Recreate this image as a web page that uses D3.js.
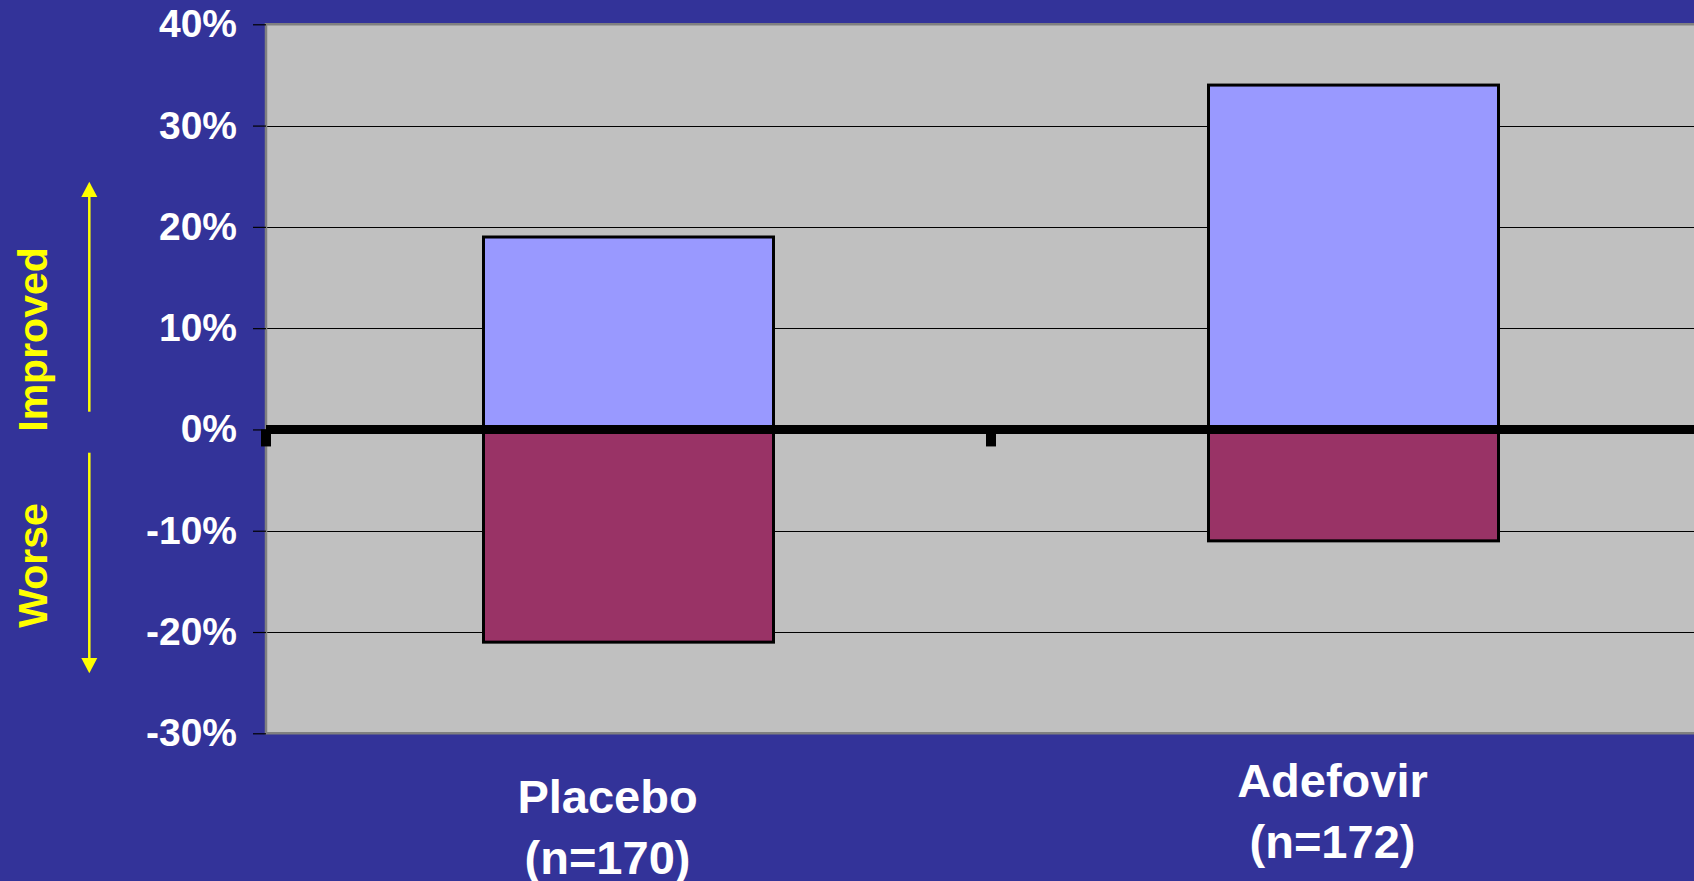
<!DOCTYPE html>
<html>
<head>
<meta charset="utf-8">
<script src="https://cdn.jsdelivr.net/npm/d3@7"></script>
<style>
  html, body { margin: 0; padding: 0; background: #333399; overflow: hidden; }
  svg { display: block; }
</style>
</head>
<body>
<svg id="chart" width="1694" height="881"></svg>
<script>
// Treatment groups and the share of patients in each outcome (%)
const groups = ["Placebo", "Adefovir"];
const groupSizes = ["(n=170)", "(n=172)"];
const improved = [19, 34];
const worse = [-21, -11];
const yTicks = [40, 30, 20, 10, 0, -10, -20, -30];

const W = 1694, H = 881;
const svg = d3.select("#chart");

const plotLeft = 266, plotTop = 24.3, plotBottom = 733.3;
const plotRight = plotLeft + 1450;

const y = d3.scaleLinear().domain([-30, 40]).range([plotBottom, plotTop]);
const x = d3.scaleBand().domain(groups).range([plotLeft, plotRight])
  .paddingInner(0.6).paddingOuter(0.3);

// Plot area
svg.append("rect")
  .attr("x", plotLeft).attr("y", plotTop)
  .attr("width", plotRight - plotLeft).attr("height", plotBottom - plotTop)
  .attr("fill", "#C0C0C0");

// Gridlines
svg.append("g").selectAll("line")
  .data(yTicks.filter(d => d !== 0 && d !== 40 && d !== -30))
  .join("line")
  .attr("x1", plotLeft).attr("x2", W)
  .attr("y1", d => Math.round(y(d)) + 0.5).attr("y2", d => Math.round(y(d)) + 0.5)
  .attr("stroke", "#000").attr("stroke-width", 1);

// Plot border (gray frame)
svg.append("path")
  .attr("d", `M${W},${plotTop} H${plotLeft} V${plotBottom} H${W}`)
  .attr("fill", "none").attr("stroke", "#808080").attr("stroke-width", 2.5);

// Y axis with tick marks to the left
const yAxis = d3.axisLeft(y).tickValues(yTicks).tickSize(13).tickPadding(16)
  .tickFormat(d => d + "%");
const gy = svg.append("g").attr("transform", `translate(${plotLeft},0)`).call(yAxis);
gy.select(".domain").remove();
gy.selectAll(".tick line").attr("stroke", "#000").attr("stroke-width", 1.2);
gy.selectAll(".tick text")
  .attr("fill", "#fff")
  .attr("font-family", "'Liberation Sans', Arial, sans-serif")
  .attr("font-weight", "bold")
  .attr("font-size", 39)
  .attr("dy", "0.32em");

// Bars: improved above zero, worse below
const barG = svg.append("g");
barG.selectAll("rect.improved")
  .data(groups)
  .join("rect")
  .attr("class", "improved")
  .attr("x", d => x(d))
  .attr("width", x.bandwidth())
  .attr("y", (d, i) => y(improved[i]))
  .attr("height", (d, i) => y(0) - y(improved[i]))
  .attr("fill", "#9999FF")
  .attr("stroke", "#000").attr("stroke-width", 3);

barG.selectAll("rect.worse")
  .data(groups)
  .join("rect")
  .attr("class", "worse")
  .attr("x", d => x(d))
  .attr("width", x.bandwidth())
  .attr("y", y(0))
  .attr("height", (d, i) => y(worse[i]) - y(0))
  .attr("fill", "#993366")
  .attr("stroke", "#000").attr("stroke-width", 3);

// Zero baseline with category tick marks
svg.append("line")
  .attr("x1", plotLeft).attr("x2", W)
  .attr("y1", y(0)).attr("y2", y(0))
  .attr("stroke", "#000").attr("stroke-width", 9);

const step = x.step();
const boundaries = [plotLeft, plotLeft + step];
svg.append("g").selectAll("rect")
  .data(boundaries)
  .join("rect")
  .attr("x", d => d - 5).attr("y", y(0))
  .attr("width", 10).attr("height", 17)
  .attr("fill", "#000");

// Category labels
const labelLift = [0, 16];
const catG = svg.append("g")
  .attr("fill", "#fff")
  .attr("font-family", "'Liberation Sans', Arial, sans-serif")
  .attr("font-weight", "bold")
  .attr("font-size", 47)
  .attr("text-anchor", "middle");
groups.forEach((g, i) => {
  const cx = x(g) + x.bandwidth() / 2 - 21;
  const base = 813 - labelLift[i];
  catG.append("text").attr("x", cx).attr("y", base).text(g);
  catG.append("text").attr("x", cx).attr("y", base + 61).text(groupSizes[i]);
});

// Direction annotation on the left
const ann = svg.append("g");
const annFont = "'Liberation Sans', Arial, sans-serif";
[["Improved", 339.5], ["Worse", 565.5]].forEach(([t, cy]) => {
  ann.append("text")
    .attr("transform", `translate(47,${cy}) rotate(-90)`)
    .attr("text-anchor", "middle")
    .attr("fill", "#FFFF00")
    .attr("font-family", annFont)
    .attr("font-weight", "bold")
    .attr("font-size", 41)
    .text(t);
});

const ax = 89.3;
ann.append("line").attr("x1", ax).attr("x2", ax).attr("y1", 195).attr("y2", 411.7)
  .attr("stroke", "#FFFF00").attr("stroke-width", 2.5);
ann.append("path")
  .attr("d", `M${ax},181.7 L${ax + 8},197 L${ax - 8},197 Z`)
  .attr("fill", "#FFFF00");
ann.append("line").attr("x1", ax).attr("x2", ax).attr("y1", 452.7).attr("y2", 660)
  .attr("stroke", "#FFFF00").attr("stroke-width", 2.5);
ann.append("path")
  .attr("d", `M${ax},673.3 L${ax + 8},658 L${ax - 8},658 Z`)
  .attr("fill", "#FFFF00");
</script>
</body>
</html>
